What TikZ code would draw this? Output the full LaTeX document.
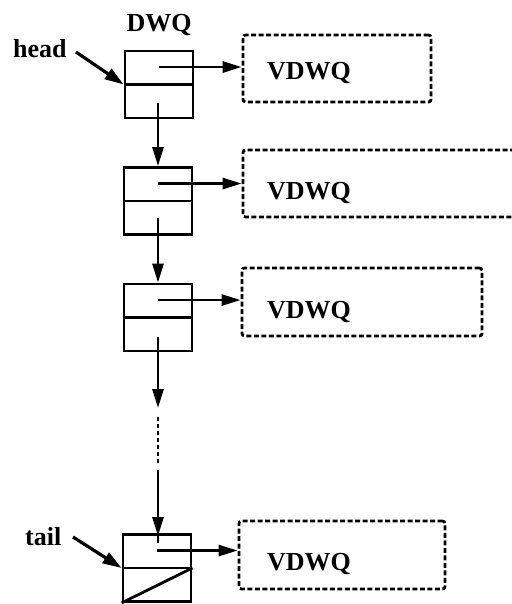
\documentclass[tikz,border=0pt]{standalone}
\usepackage{fontspec}
\setmainfont{Liberation Serif}
\usetikzlibrary{arrows.meta,calc}
\begin{document}
\begin{tikzpicture}[x=1bp,y=-1bp,
  lbl/.style={inner sep=0pt,font=\fontsize{26bp}{30bp}\selectfont\bfseries},
  cell/.style={draw,line width=2.8bp,minimum width=68bp,minimum height=67bp,inner sep=0pt},
  vbox/.style={draw,line width=2.8bp,dash pattern=on 5bp off 2.5bp,rounded corners=2.5bp,inner sep=0pt},
  ptr/.style={line width=2.8bp,-{Triangle[length=19bp,width=11bp]}},
  ptrline/.style={line width=2.8bp},
  dotline/.style={line width=2.6bp,dash pattern=on 4bp off 3bp}]
\useasboundingbox (0,0) rectangle (512,604);
\clip (0,0) rectangle (512,604);
% list cells
\node[cell] (n1) at (159,84.5) {};
\node[cell] (n2) at (158,201) {};
\node[cell] (n3) at (158,317.5) {};
\node[cell] (n4) at (157,568) {};
\foreach \n in {n1,n2,n3,n4}{\draw[line width=2.8bp] (\n.west) -- (\n.east);}
\draw[line width=2.8bp] (n4.south west) -- (n4.east);
% dashed VDWQ boxes
\node[vbox,minimum width=188bp,minimum height=67bp] (v1) at (337,68.5) {};
\node[vbox,minimum width=282bp,minimum height=67bp] (v2) at (384,183.5) {};
\node[vbox,minimum width=240bp,minimum height=68bp] (v3) at (362,302) {};
\node[vbox,minimum width=206bp,minimum height=68bp] (v4) at (342,555) {};
\node[lbl,anchor=base west] (t1) at (267,80) {VDWQ};
\node[lbl,anchor=base west] (t2) at (267,199) {VDWQ};
\node[lbl,anchor=base west] (t3) at (267,318) {VDWQ};
\node[lbl,anchor=base west] (t4) at (267,570) {VDWQ};
% labels
\node[lbl,anchor=base] (dwq) at (159,32) {DWQ};
\node[lbl,anchor=base west] (head) at (13,58) {head};
\node[lbl,anchor=base west] (tail) at (25,545) {tail};
% pointer starts
\coordinate (p1) at ($(n1.center)!0.5!(n1.north)$);
\coordinate (p2) at ($(n2.center)!0.5!(n2.north)$);
\coordinate (p3) at ($(n3.center)!0.5!(n3.north)$);
\coordinate (p4) at ($(n4.center)!0.5!(n4.north)$);
\draw[ptr] (p1) -- (p1 -| v1.west);
\draw[ptr] (p2) -- (p2 -| v2.west);
\draw[ptr] (p3) -- (p3 -| v3.west);
\draw[ptr] (p4) -- (p4 -| v4.west);
% next links
\coordinate (d1) at (158,103);
\coordinate (d2) at (158,218);
\coordinate (d3) at (158,337);
\draw[ptr] (d1) -- (d1 |- n2.north);
\draw[ptr] (d2) -- (d2 |- n3.north);
\coordinate (c1) at (158,408);
\coordinate (c2) at (158,417);
\coordinate (c3) at (158,463);
\coordinate (c3b) at (158,470);
\coordinate (c4) at (158,536);
\coordinate (c5) at (158,543);
\draw[ptr] (d3) -- (c1);
\draw[dotline] (c2) -- (c3);
\draw[ptr] (c3b) -- (c4);
\draw[ptrline] (n4.north -| c5) -- (c5);
% head / tail arrows
\draw[line width=3.2bp,-{Triangle[length=19bp,width=12bp]}] (76,52) -- (n1.west);
\draw[line width=3.2bp,-{Triangle[length=19bp,width=12bp]}] (73,537) -- (n4.west);
\end{tikzpicture}
\end{document}
